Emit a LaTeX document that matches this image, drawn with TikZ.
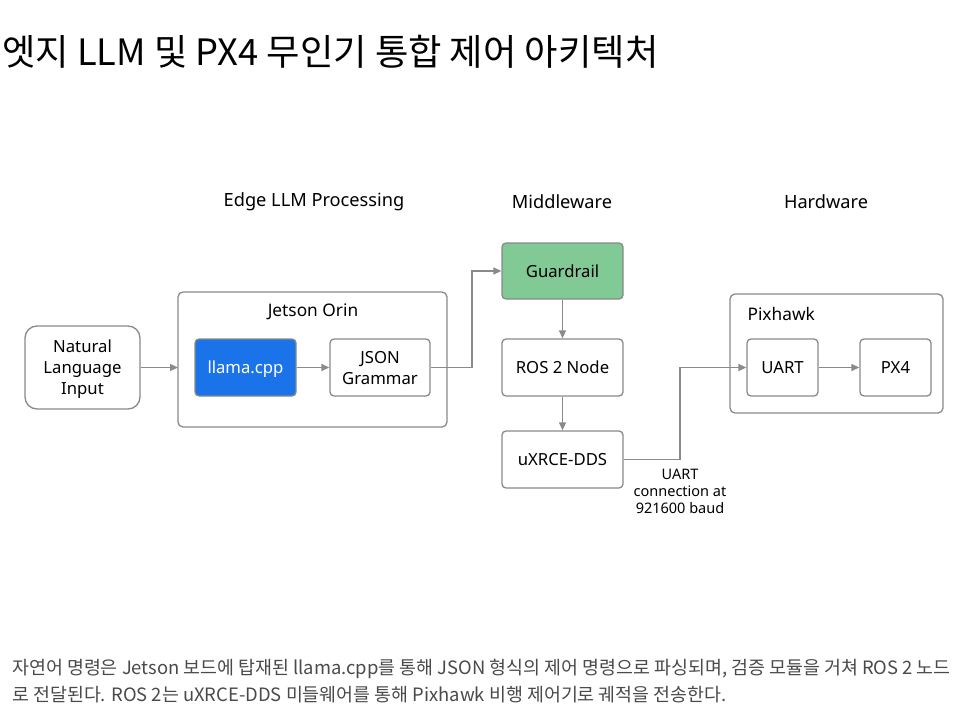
\documentclass[tikz,border=0pt]{standalone}
\usepackage{fontspec}
\setmainfont{Noto Sans}
\newfontfamily\kr{Noto Sans CJK KR}
\usetikzlibrary{arrows.meta,positioning}
\definecolor{edge}{HTML}{8A8A8A}
\definecolor{blueb}{HTML}{1A73E8}
\definecolor{greenb}{HTML}{81C995}
\definecolor{capc}{HTML}{4A4A4A}
\begin{document}
\begin{tikzpicture}[x=1pt,y=-1pt,
  box/.style={draw=edge,line width=1.3pt,rounded corners=4pt,align=center,font=\fontsize{16.7}{21}\selectfont,inner sep=0pt,text depth=0pt},
  grp/.style={draw=edge,line width=1.3pt,rounded corners=5pt},
  conn/.style={draw=edge,line width=1.3pt,-{Triangle[length=8pt,width=7pt]}},
  head/.style={font=\fontsize{18.2}{21}\selectfont,anchor=center},
  lbl/.style={font=\fontsize{17.3}{20}\selectfont}]
\useasboundingbox (0,0) rectangle (968,727);
\fill[white] (0,0) rectangle (968,727);
% title
\node[anchor=west,font=\kr\fontsize{36.3}{40}\selectfont,inner sep=0pt] (title) at (2,52) {엣지 LLM 및 PX4 무인기 통합 제어 아키텍처};
% headings
\node[head] (h1) at (314,201.5) {Edge LLM Processing};
\node[head] (h2) at (562,201.5) {Middleware};
\node[head] (h3) at (826,201.5) {Hardware};
% groups
\draw[grp] (178,292) rectangle (447,427);
\node[lbl] (jo) at (313,312) {Jetson Orin};
\coordinate (jowest) at (178,367.5);
\draw[grp] (730,294) rectangle (943,413);
\node[lbl,anchor=west] (pix) at (744,314) {Pixhawk};
% nodes
\node[box,rounded corners=12pt,minimum width=115pt,minimum height=83pt] (nl) at (82.5,367.5) {Natural\\Language\\Input};
\node[box,fill=blueb,text=white,minimum width=101pt,minimum height=57pt] (llama) at (245.5,367.5) {llama.cpp};
\node[box,minimum width=100pt,minimum height=57pt] (json) at (380,367.5) {JSON\\Grammar};
\node[box,fill=greenb,minimum width=121pt,minimum height=56pt] (guard) at (562.5,271) {Guardrail};
\node[box,minimum width=121pt,minimum height=57pt] (ros) at (562.5,367.5) {ROS 2 Node};
\node[box,minimum width=121pt,minimum height=57pt] (dds) at (562.5,459.5) {uXRCE-DDS};
\node[box,minimum width=71pt,minimum height=57pt] (uart) at (782.5,367.5) {UART};
\node[box,minimum width=71pt,minimum height=57pt] (px4) at (895.5,367.5) {PX4};
% connectors
\draw[conn] (nl.east) -- (jowest);
\draw[conn] (llama) -- (json);
\draw[conn] (json.east) -- (472,367.5) -- (472,271) -- (guard.west);
\draw[conn] (guard) -- (ros);
\draw[conn] (ros) -- (dds);
\draw[conn] (dds.east) -- (680,459.5) -- (680,367.5) -- (uart.west);
\draw[conn] (uart) -- (px4);
\node[align=center,font=\fontsize{14.5}{17}\selectfont] (ul) at (680,491) {UART\\connection at\\921600 baud};
% caption
\node[anchor=west,text=capc,font=\kr\fontsize{18.4}{27}\selectfont,align=left,inner sep=0pt] (cap) at (12,681.5) {자연어 명령은 Jetson 보드에 탑재된 llama.cpp를 통해 JSON 형식의 제어 명령으로 파싱되며, 검증 모듈을 거쳐 ROS 2 노드\\로 전달된다. ROS 2는 uXRCE-DDS 미들웨어를 통해 Pixhawk 비행 제어기로 궤적을 전송한다.};
\end{tikzpicture}
\end{document}
